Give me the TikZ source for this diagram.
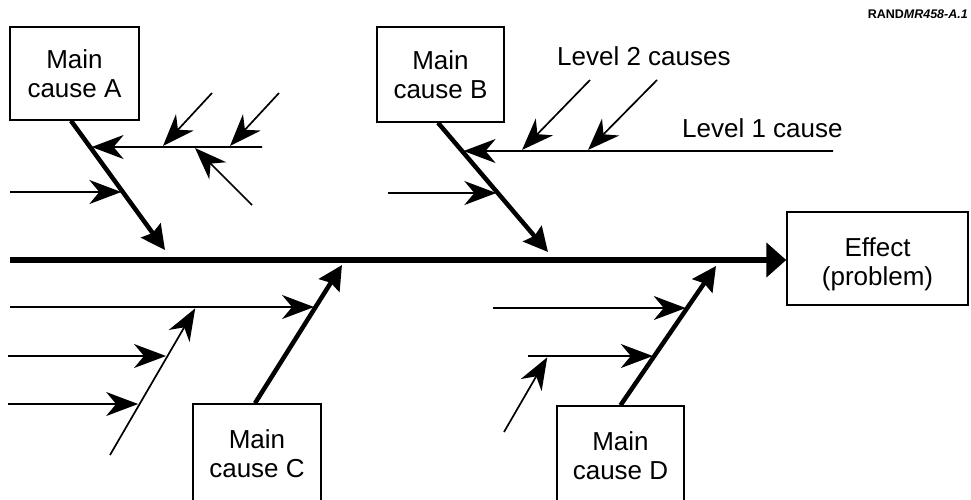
\documentclass[tikz,border=0pt]{standalone}
\usepackage{fontspec}
\setmainfont{Liberation Sans}
\usetikzlibrary{arrows.meta,calc}
\tikzset{
  box/.style={draw, line width=1.5pt, align=center, inner sep=0pt, font=\fontsize{26}{29}\selectfont},
  lbl/.style={inner sep=0pt, font=\fontsize{26}{29}\selectfont},
  twig/.style={line width=1.7pt, -{Stealth[length=32pt,width=24pt,inset=10pt]}, shorten >=1.5pt},
  bone/.style={line width=4.5pt, -{Stealth[length=24pt,width=24pt,inset=3pt]}},
  spine/.style={line width=6pt, -{Triangle[length=20pt,width=34pt]}},
}
\begin{document}
\begin{tikzpicture}[x=1pt,y=-1pt]
\clip (0,0) rectangle (971,499);
\fill[white] (0,0) rectangle (971,499);

% boxes
\node[box, minimum width=129pt, minimum height=93pt] (A) at (74.5,73.5) {Main\\cause A};
\node[box, minimum width=127pt, minimum height=95pt] (B) at (440.5,74.5) {Main\\cause B};
\node[box, minimum width=128pt, minimum height=100pt] (C) at (257,454) {Main\\cause C};
\node[box, minimum width=127pt, minimum height=100pt] (D) at (620.5,456) {Main\\cause D};
\node[box, minimum width=181pt, minimum height=93pt] (E) at (877.5,258.5) {\rule{0pt}{30pt}Effect\\(problem)};

% labels
\node[lbl, anchor=base west] (L2) at (557,65) {Level 2 causes};
\node[lbl, anchor=base west] (L1) at (682,137) {Level 1 cause};
\node[anchor=base east, inner sep=0pt, font=\fontsize{12.5}{14}\selectfont\bfseries] (id) at (968,18) {RAND\textit{MR458-A.1}};

% spine
\coordinate (s0) at (10,260);
\draw[spine] (s0) -- (s0 -| E.west);

% bones
\coordinate (a0) at ([xshift=-3.5pt]A.south);
\coordinate (at) at (165,250);
\coordinate (b0) at ([xshift=-2.5pt]B.south);
\coordinate (bt) at (548,252);
\coordinate (c0) at ([xshift=-2pt]C.north);
\coordinate (ct) at (342,265);
\coordinate (d0) at (D.north);
\coordinate (dt) at (716,266);
\draw[bone] (a0) -- (at);
\draw[bone] (b0) -- (bt);
\draw[bone] (c0) -- (ct);
\draw[bone] (d0) -- (dt);

% cause A branches
\coordinate (a1s) at (262,147);
\coordinate (a1e) at (0,147);
\coordinate (a1t) at (intersection of a1s--a1e and a0--at);
\draw[twig] (a1s) -- (a1t);
\coordinate (a2s) at (10,192);
\coordinate (a2e) at (300,192);
\coordinate (a2t) at (intersection of a2s--a2e and a0--at);
\draw[twig] (a2s) -- (a2t);
\coordinate (a3s) at (212,93);  \coordinate (a3t) at (162,147);
\coordinate (a4s) at (279,93);  \coordinate (a4t) at (229,147);
\coordinate (a5s) at (252,205); \coordinate (a5t) at (194,147);
\draw[twig] (a3s) -- (a3t);
\draw[twig] (a4s) -- (a4t);
\draw[twig] (a5s) -- (a5t);

% cause B branches
\coordinate (b1s) at (833,151);
\coordinate (b1e) at (300,151);
\coordinate (b1t) at (intersection of b1s--b1e and b0--bt);
\draw[twig] (b1s) -- (b1t);
\coordinate (b2s) at (388,193);
\coordinate (b2e) at (700,193);
\coordinate (b2t) at (intersection of b2s--b2e and b0--bt);
\draw[twig] (b2s) -- (b2t);
\coordinate (b3s) at (590,80); \coordinate (b3t) at (521,151);
\coordinate (b4s) at (657,80); \coordinate (b4t) at (587,151);
\draw[twig] (b3s) -- (b3t);
\draw[twig] (b4s) -- (b4t);

% cause C branches
\coordinate (c1s) at (10,307);
\coordinate (c1e) at (600,307);
\coordinate (c1t) at (intersection of c1s--c1e and c0--ct);
\draw[twig] (c1s) -- (c1t);
\coordinate (c2s) at (110,455);
\coordinate (c2t) at (196,307);
\draw[twig] (c2s) -- (c2t);
\coordinate (c3s) at (8,356);
\coordinate (c3e) at (400,356);
\coordinate (c3t) at (intersection of c3s--c3e and c2s--c2t);
\draw[twig] (c3s) -- (c3t);
\coordinate (c4s) at (8,404);
\coordinate (c4e) at (400,404);
\coordinate (c4t) at (intersection of c4s--c4e and c2s--c2t);
\draw[twig] (c4s) -- (c4t);

% cause D branches
\coordinate (d1s) at (493,308);
\coordinate (d1e) at (900,308);
\coordinate (d1t) at (intersection of d1s--d1e and d0--dt);
\draw[twig] (d1s) -- (d1t);
\coordinate (d2s) at (528,356);
\coordinate (d2e) at (900,356);
\coordinate (d2t) at (intersection of d2s--d2e and d0--dt);
\draw[twig] (d2s) -- (d2t);
\coordinate (d3s) at (504,432);
\coordinate (d3t) at (548,356);
\draw[twig] (d3s) -- (d3t);
\end{tikzpicture}
\end{document}
